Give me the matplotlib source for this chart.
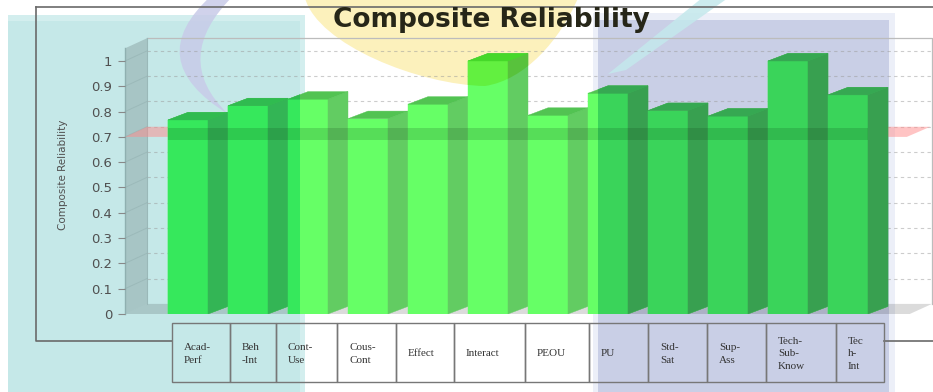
"""Composite reliability per construct, drawn as a pseudo-3D bar chart."""

import matplotlib

matplotlib.use("Agg")

import matplotlib.pyplot as plt
from matplotlib.patches import PathPatch, Polygon, Rectangle
from matplotlib.path import Path
from matplotlib.transforms import Affine2D

TITLE = "Composite Reliability"
Y_LABEL = "Composite Reliability"

CATEGORIES = [
    "Acad-Perf", "Beh-Int", "Cont-Use", "Cous-Cont", "Effect", "Interact",
    "PEOU", "PU", "Std-Sat", "Sup-Ass", "Tech-Sub-Know", "Tech-Int",
]
TABLE_LABELS = [
    "Acad-\nPerf", "Beh\n-Int", "Cont-\nUse", "Cous-\nCont", "Effect", "Interact",
    "PEOU", "PU", "Std-\nSat", "Sup-\nAss", "Tech-\nSub-\nKnow", "Tec\nh-\nInt",
]
RELIABILITY = [0.767, 0.823, 0.849, 0.772, 0.829, 1.0, 0.785, 0.872, 0.804, 0.782, 1.0, 0.866]
THRESHOLD = 0.7

Y_TICKS = [0, 0.1, 0.2, 0.3, 0.4, 0.5, 0.6, 0.7, 0.8, 0.9, 1.0]
Y_TICK_LABELS = ["0", "0.1", "0.2", "0.3", "0.4", "0.5", "0.6", "0.7", "0.8", "0.9", "1"]

W, H, DPI = 933, 392, 100

# 3D look: bar half width, bar depth and wall depth (data units)
HALF = 1 / 3
DXB, DYB = 1 / 3, 0.03
DXW, DYW = 0.367, 0.04
X_LEFT, X_RIGHT = -1.05, 12.4
WALL_TOP = 1.05

PALETTES = {
    "base": {"front": "#66ff66", "side": "#62cc62", "top": "#52c352"},
    "teal": {"front": "#36e85c", "side": "#33b555", "top": "#30bb50"},
    "blue": {"front": "#3ad45a", "side": "#38a050", "top": "#36a852"},
    "yellow": {"front": "#62f040", "side": "#58c23c", "top": "#46d82a"},
}

fig = plt.figure(figsize=(W / DPI, H / DPI), dpi=DPI)
fig.patch.set_facecolor("white")
# pixel coordinates with the origin in the top-left corner
pix = Affine2D().scale(1, -1).translate(0, H)

ax = fig.add_axes([125 / W, (H - 314) / H, (933 - 125) / W, 1.1 * 253 / H])
ax.patch.set_visible(False)
for spine in ax.spines.values():
    spine.set_visible(False)


def add_px(patch, z):
    patch.set_transform(pix)
    patch.set_zorder(z)
    patch.set_clip_on(False)
    ax.add_patch(patch)
    return patch


def box_path(x, y, w, h):
    return Path([(x, y), (x + w, y), (x + w, y + h), (x, y + h), (x, y)], closed=True)


# background shading blocks
add_px(Rectangle((8, 15), 297, 377, facecolor="#d3eeee", edgecolor="none"), 2.0)
teal = add_px(PathPatch(box_path(8, 21, 292, 371), facecolor="#c5e8e8", edgecolor="none"), 2.01)
add_px(Rectangle((593, 13), 302, 379, facecolor="#eceff8", edgecolor="none"), 2.0)
blue = add_px(PathPatch(box_path(598, 20, 291, 372), facecolor="#c9cfe6", edgecolor="none"), 2.01)
yellow_path = Path(
    [(305, -2), (318, 45), (420, 85), (485, 86), (525, 80), (560, 40), (578, -2), (305, -2)],
    [Path.MOVETO, Path.CURVE4, Path.CURVE4, Path.CURVE4,
     Path.CURVE4, Path.CURVE4, Path.CURVE4, Path.CLOSEPOLY],
)
yellow = add_px(PathPatch(yellow_path, facecolor="#fcf1bc", edgecolor="none"), 2.0)
crescent = Path(
    [(212, -5), (140, 60), (228, 114), (170, 58), (234, -5), (212, -5)],
    [Path.MOVETO, Path.CURVE3, Path.CURVE3, Path.CURVE3, Path.CURVE3, Path.CLOSEPOLY],
)
add_px(PathPatch(crescent, facecolor="#c8cbe8", edgecolor="none", alpha=0.85), 2.05)
add_px(Polygon([(702, -2), (728, -2), (626, 70), (608, 74)], facecolor="#c4e8ec",
               edgecolor="none", alpha=0.85), 2.05)

# walls, floor, grid
ax.add_patch(Polygon([(X_LEFT, 0), (X_LEFT, WALL_TOP), (X_LEFT + DXW, WALL_TOP + DYW),
                      (X_LEFT + DXW, DYW)], facecolor="black", alpha=0.15,
                     edgecolor="none", zorder=2.3, clip_on=False))
ax.plot([X_LEFT, X_LEFT], [0, WALL_TOP], color="#8fb0b0", lw=1.0, zorder=2.35, clip_on=False)
ax.plot([X_LEFT + DXW] * 2, [DYW, WALL_TOP + DYW], color="#9ab8b8", lw=0.8, zorder=2.35,
        clip_on=False)
ax.add_patch(Polygon([(X_LEFT, 0), (12.03, 0), (X_RIGHT, DYW), (X_LEFT + DXW, DYW)],
                     facecolor="black", alpha=0.14, edgecolor="none", zorder=2.3,
                     clip_on=False))
ax.plot([X_LEFT + DXW, X_RIGHT, X_RIGHT], [WALL_TOP + DYW, WALL_TOP + DYW, DYW],
        color="#bcbcbc", lw=0.9, zorder=2.3, clip_on=False)
for v in Y_TICKS[1:]:
    ax.plot([X_LEFT + DXW, X_RIGHT], [v + DYW] * 2, ls=(0, (3, 3)), color="#9a9a9a",
            alpha=0.5, lw=0.8, zorder=2.2, clip_on=False)
    ax.plot([X_LEFT, X_LEFT + DXW], [v, v + DYW], color="#8aa8a8", alpha=0.4, lw=0.7,
            zorder=2.35, clip_on=False)

# threshold plane at 0.7
ax.add_patch(Polygon([(X_LEFT, THRESHOLD), (11.98, THRESHOLD), (12.37, THRESHOLD + DYW),
                      (X_LEFT + DXW, THRESHOLD + DYW)], facecolor="#ff8a8a", alpha=0.5,
                     edgecolor="none", zorder=2.4, clip_on=False))


def bar_faces(i, h):
    left, right = i - HALF, i + HALF
    front = [(left, 0), (right, 0), (right, h), (left, h)]
    side = [(right, 0), (right + DXB, DYB), (right + DXB, h + DYB), (right, h)]
    top = [(left, h), (right, h), (right + DXB, h + DYB), (left + DXB, h + DYB)]
    return {"front": front, "side": side, "top": top}


def draw_bars(palette, z, clip=None):
    for i, h in enumerate(RELIABILITY):
        for face, verts in bar_faces(i, h).items():
            poly = Polygon(verts, closed=True, facecolor=palette[face],
                           edgecolor=palette[face], lw=0.3, zorder=z)
            ax.add_patch(poly)
            if clip is not None:
                poly.set_clip_path(clip)


draw_bars(PALETTES["base"], 4.0)
draw_bars(PALETTES["teal"], 4.1, teal)
draw_bars(PALETTES["blue"], 4.2, blue)
draw_bars(PALETTES["yellow"], 4.3, yellow)

# darker band where the threshold plane cuts the bars
ax.add_patch(Rectangle((-HALF, THRESHOLD - 0.012), len(RELIABILITY) - 1 + 2 * HALF, 0.047,
                       facecolor="#0a3a14", alpha=0.17, edgecolor="none", zorder=5))

ax.set_xlim(X_LEFT, 12.417)
ax.set_ylim(0, 1.1)
ax.set_xticks([])
ax.set_yticks(Y_TICKS, Y_TICK_LABELS)
ax.tick_params(axis="y", length=5, width=0.8, color="#888888", labelcolor="#505050",
               labelsize=9.5, pad=4)
ax.yaxis.set_zorder(6)
ax.set_ylabel(Y_LABEL, fontsize=7.5, color="#505050",
              family=["Liberation Sans Narrow", "DejaVu Sans"])
ax.yaxis.set_label_coords((68 - 125) / 808, 0.5)

# chart frame
frame_kw = dict(color="#6a6a6a", lw=1.2, transform=pix, clip_on=False, zorder=6)
ax.plot([36, 933], [7, 7], **frame_kw)
ax.plot([36, 36, 172], [7, 341, 341], **frame_kw)
ax.plot([884, 933], [341, 341], **frame_kw)

ax.text(491, 20, TITLE, transform=pix, ha="center", va="center", fontsize=19,
        fontweight="heavy", color="#262618", zorder=7)

# label table under the bars
col_edges = [172, 230, 276, 337, 396, 454, 525, 589, 648, 707, 766, 836, 884]
for k, label in enumerate(TABLE_LABELS):
    x0, x1 = col_edges[k], col_edges[k + 1]
    add_px(Rectangle((x0, 323), x1 - x0, 59, fill=False, edgecolor="#777777", lw=1.0), 6)
    ax.text(x0 + 12, 354, label, transform=pix, ha="left", va="center", fontsize=8,
            family="Liberation Serif", color="#333333", linespacing=1.5, zorder=7)

fig.savefig("out.png", dpi=DPI)
